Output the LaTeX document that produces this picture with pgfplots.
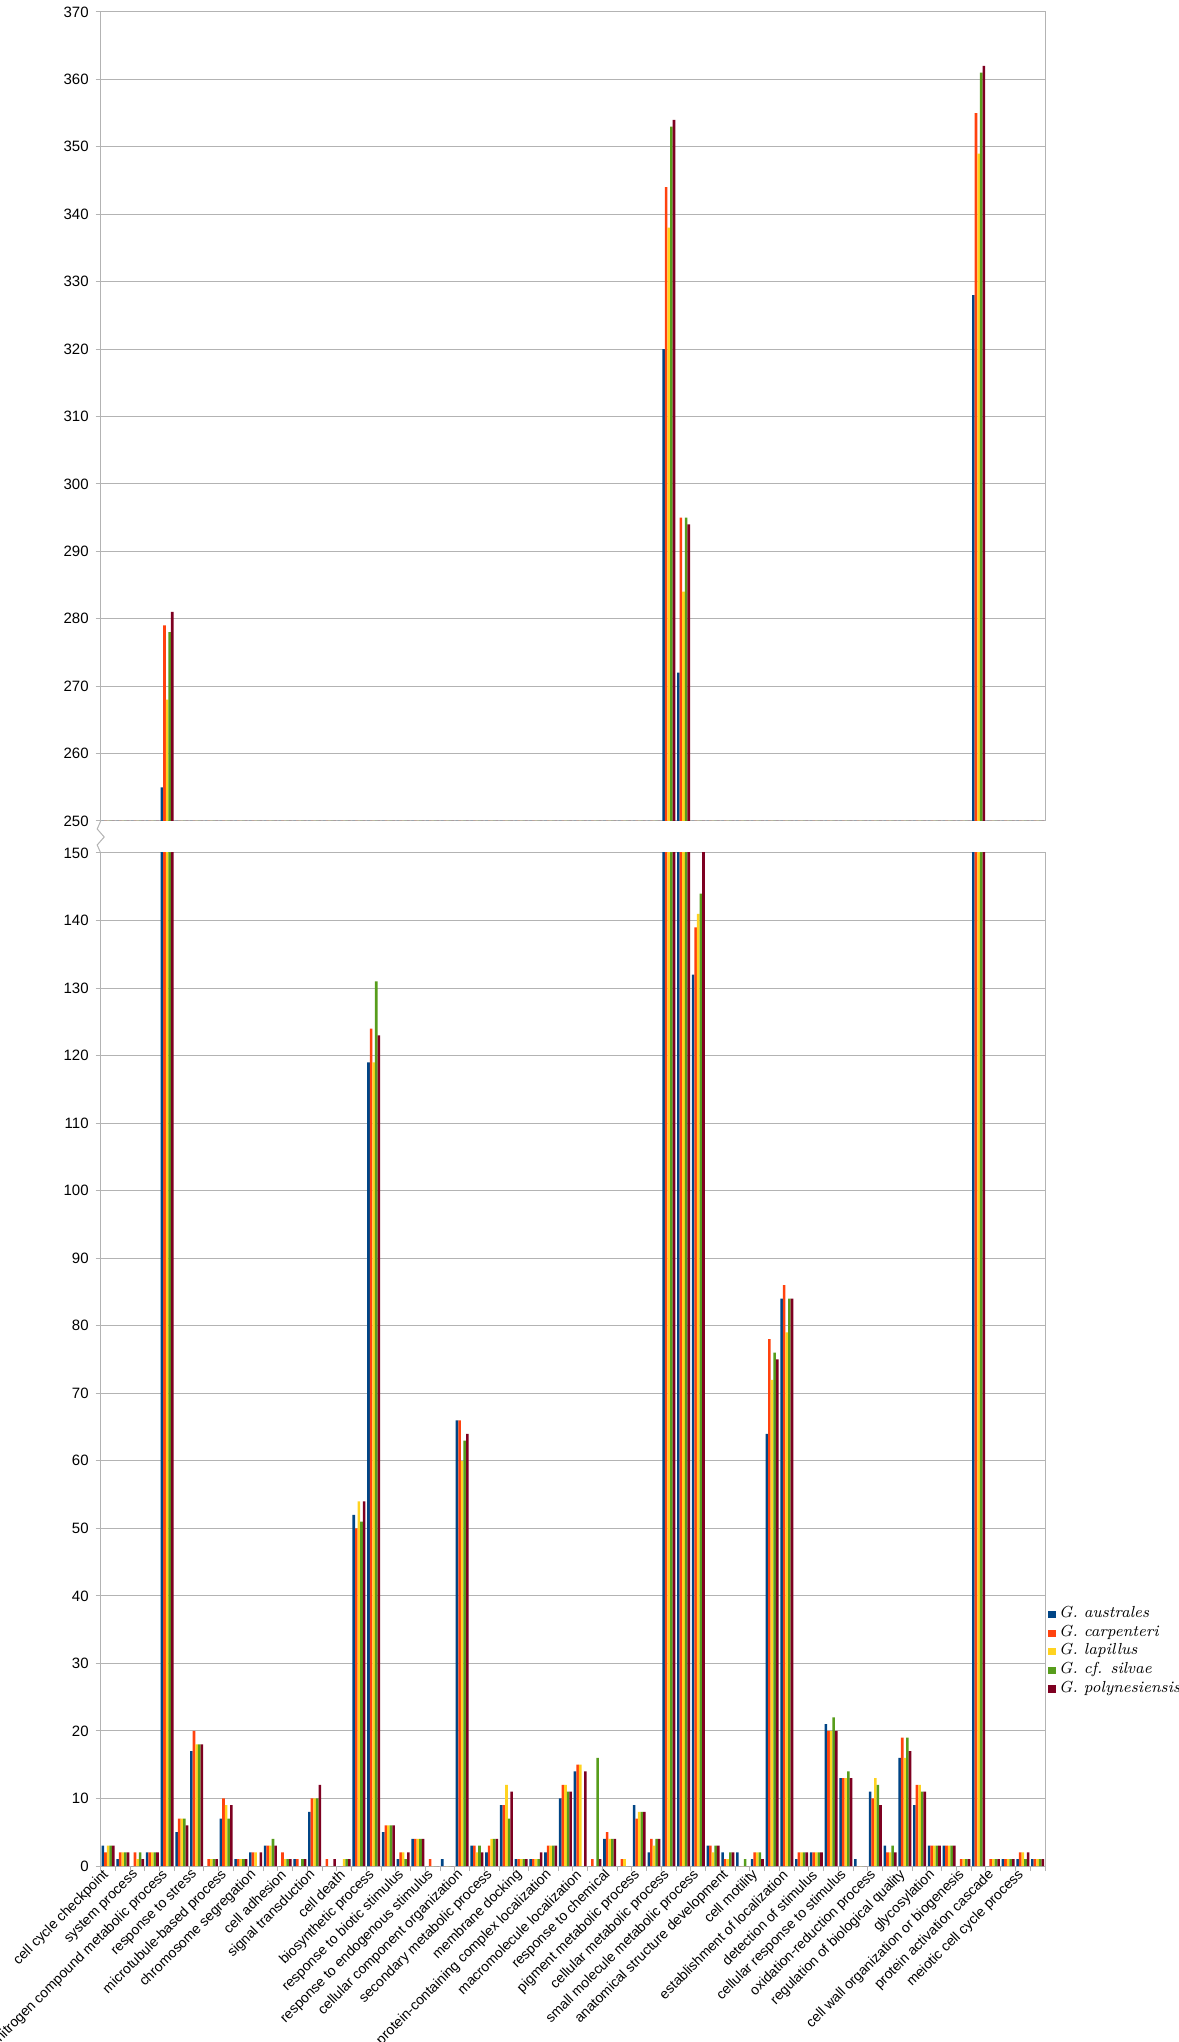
\documentclass[border=0pt]{standalone}
\usepackage{fontspec}
\setsansfont{Liberation Sans}
\usepackage{pgfplots}
\usepackage{pgfplotstable}
\pgfplotsset{compat=1.18}

\definecolor{cA}{HTML}{004586}
\definecolor{cC}{HTML}{FF420E}
\definecolor{cL}{HTML}{FFD320}
\definecolor{cS}{HTML}{579D1C}
\definecolor{cP}{HTML}{7E0021}
\definecolor{gridgray}{HTML}{B3B3B3}

% counts per category: australes, carpenteri, lapillus, cf. silvae, polynesiensis
\pgfplotstableread{
x  a   c   l   s   p
1  3   2   3   3   3
2  1   2   2   2   2
3  0   2   1   2   1
4  2   2   2   2   2
5  255 279 268 278 281
6  5   7   7   7   6
7  17  20  18  18  18
8  0   1   1   1   1
9  7   10  9   7   9
10 1   1   1   1   1
11 2   2   2   0   2
12 3   3   3   4   3
13 0   2   1   1   1
14 1   1   0   1   1
15 8   10  10  10  12
16 0   1   0   0   1
17 0   0   1   1   1
18 52  50  54  51  54
19 119 124 119 131 123
20 5   6   6   6   6
21 1   2   2   1   2
22 4   4   4   4   4
23 0   1   0   0   0
24 1   0   0   0   0
25 66  66  60  63  64
26 3   3   2   3   2
27 2   3   4   4   4
28 9   9   12  7   11
29 1   1   1   1   1
30 1   1   1   1   2
31 2   3   3   3   3
32 10  12  12  11  11
33 14  15  15  0   14
34 0   1   0   16  1
35 4   5   4   4   4
36 0   1   1   0   0
37 9   7   8   8   8
38 2   4   3   4   4
39 320 344 338 353 354
40 272 295 284 295 294
41 132 139 141 144 155
42 3   3   2   3   3
43 2   1   1   2   2
44 2   0   0   1   0
45 1   2   2   2   1
46 64  78  72  76  75
47 84  86  79  84  84
48 1   2   2   2   2
49 2   2   2   2   2
50 21  20  20  22  20
51 13  13  13  14  13
52 1   0   0   0   0
53 11  10  13  12  9
54 3   2   2   3   2
55 16  19  16  19  17
56 9   12  12  11  11
57 3   3   3   3   3
58 3   3   3   3   3
59 0   1   1   1   1
60 328 355 349 361 362
61 0   1   1   1   1
62 1   1   1   1   1
63 1   2   2   1   2
64 1   1   1   1   1
}\gocounts

\pgfplotsset{
  brk/.style={
    scale only axis,
    width=472.15pt,
    xmin=0.5, xmax=64.5,
    ybar=0pt, bar width=0.176,
    axis line style={gridgray, line width=0.5pt},
    ymajorgrids,
    grid style={gridgray, line width=0.5pt},
    tick align=outside,
    ytick pos=left,
    xtick pos=bottom,
    major tick length=2.5pt,
    tick style={gridgray, line width=0.5pt},
    yticklabel style={font=\sffamily\fontsize{7.5}{9}\selectfont, black},
    /pgf/number format/assume math mode=true,
    anchor=south west,
  },
}

\begin{document}
\begin{tikzpicture}
\path[use as bounding box] (0,0) rectangle (589.5pt,1021pt);

% upper part of the broken axis
\begin{axis}[brk,
    at={(50.35pt,610.5pt)},
    height=404.5pt,
    ymin=250, ymax=370,
    ytick={250,260,...,370},
    xtick=\empty,
]
\addplot[fill=cA, draw=none] table[x=x, y=a] {\gocounts};
\addplot[fill=cC, draw=none] table[x=x, y=c] {\gocounts};
\addplot[fill=cL, draw=none] table[x=x, y=l] {\gocounts};
\addplot[fill=cS, draw=none] table[x=x, y=s] {\gocounts};
\addplot[fill=cP, draw=none] table[x=x, y=p] {\gocounts};
\end{axis}

% lower part
\begin{axis}[brk,
    at={(50.35pt,88pt)},
    height=506.5pt,
    ymin=0, ymax=150,
    ytick={0,10,...,150},
    xtick={1,3,...,63},
    xtick style={draw=none},
    xticklabels={cell cycle checkpoint, system process, nitrogen compound metabolic process,
      response to stress, microtubule-based process, chromosome segregation, cell adhesion,
      signal transduction, cell death, biosynthetic process, response to biotic stimulus,
      response to endogenous stimulus, cellular component organization,
      secondary metabolic process, membrane docking, protein-containing complex localization,
      macromolecule localization, response to chemical, pigment metabolic process,
      cellular metabolic process, small molecule metabolic process,
      anatomical structure development, cell motility, establishment of localization,
      detection of stimulus, cellular response to stimulus, oxidation-reduction process,
      regulation of biological quality, glycosylation, cell wall organization or biogenesis,
      protein activation cascade, meiotic cell cycle process},
    xticklabel style={font=\sffamily\fontsize{7}{8}\selectfont, rotate=45, anchor=east, inner sep=1pt, black},
    extra x ticks={0.5,1.5,...,64.5},
    extra x tick labels={},
    extra x tick style={grid=none, xtick style={draw=gridgray, line width=0.5pt}},
    legend cell align=left,
    legend style={draw=none, fill=none, at={(1.0032,0.2577)}, anchor=north west,
      font=\fontsize{8}{8}\selectfont, row sep=0pt, inner sep=0pt,
      nodes={inner sep=0.6pt, text height=5.6pt, text depth=2.5pt},
      /tikz/every odd column/.append style={column sep=1.2pt}},
    legend image code/.code={\path[#1] (0pt,-1.8pt) rectangle (3.6pt,1.8pt);},
]
\addplot[fill=cA, draw=none] table[x=x, y=a] {\gocounts};
\addlegendentry{\textit{G. australes}}
\addplot[fill=cC, draw=none] table[x=x, y=c] {\gocounts};
\addlegendentry{\textit{G. carpenteri}}
\addplot[fill=cL, draw=none] table[x=x, y=l] {\gocounts};
\addlegendentry{\textit{G. lapillus}}
\addplot[fill=cS, draw=none] table[x=x, y=s] {\gocounts};
\addlegendentry{\textit{G. cf. silvae}}
\addplot[fill=cP, draw=none] table[x=x, y=p] {\gocounts};
\addlegendentry{\textit{G. polynesiensis}}
\end{axis}

% break mark on the value axis
\draw[gridgray, line width=0.5pt] (50.35pt,594.5pt) -- (48.6pt,598.5pt) -- (52.1pt,602.5pt)
  -- (48.6pt,606.5pt) -- (50.35pt,610.5pt);
\end{tikzpicture}
\end{document}
